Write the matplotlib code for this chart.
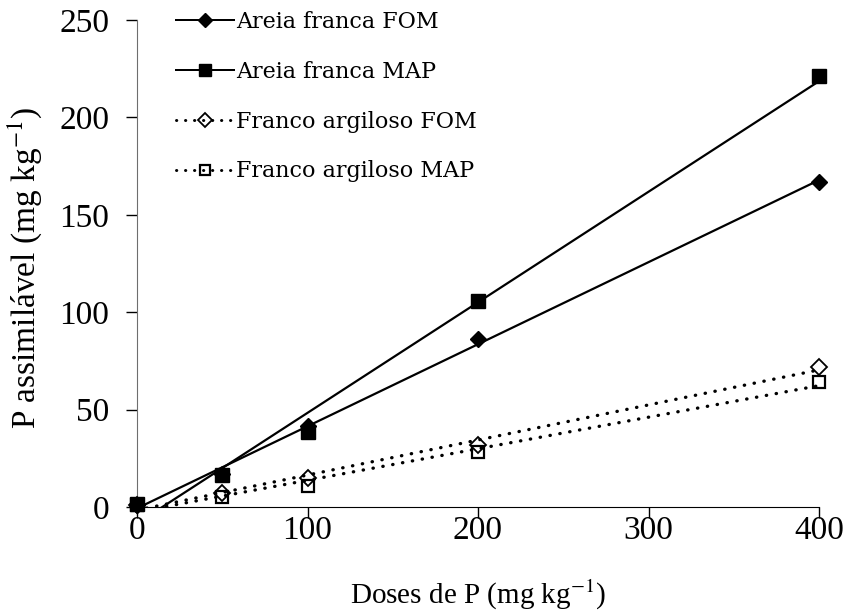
import numpy as np
import matplotlib
matplotlib.use("Agg")
import matplotlib.pyplot as plt
from matplotlib.lines import Line2D

plt.rcParams['font.family'] = ['Liberation Serif', 'DejaVu Serif']
plt.rcParams['mathtext.fontset'] = 'stix'

# Doses de P aplicadas (mg kg-1)
doses = [0, 50, 100, 200, 400]

# P assimilável (mg kg-1) por solo e fertilizante
areia_fom = [1, 17, 41.5, 86, 167]
areia_map = [1.5, 16.5, 38.5, 106, 221]
franco_fom = [1, 7, 15, 32, 72]
franco_map = [1, 5, 11, 28, 64]

labels = ["Areia franca FOM", "Areia franca MAP",
          "Franco argiloso FOM", "Franco argiloso MAP"]

x_ticks = [0, 100, 200, 300, 400]
y_ticks = [0, 50, 100, 150, 200, 250]

fig = plt.figure(figsize=(8.43, 6.13), dpi=100)
ax = fig.add_axes([137 / 843, 1 - 507 / 613, (819 - 137) / 843, (507 - 20) / 613])

dotted = (0, (0.1, 2.9))
styles = [
    dict(ls='-', lw=1.6, marker='D', ms=8, mfc='black', mec='black'),
    dict(ls='-', lw=1.6, marker='s', ms=10, mfc='black', mec='black'),
    dict(ls=dotted, lw=2.4, marker='D', ms=8, mfc='none', mec='black', mew=1.3),
    dict(ls=dotted, lw=2.4, marker='s', ms=9, mfc='none', mec='black', mew=1.6),
]
series = [areia_fom, areia_map, franco_fom, franco_map]

# linear trend line for each series, markers at the measured points
xfit = np.array([0.0, 400.0])
for order in [2, 3, 0, 1]:
    y = series[order]
    st = styles[order]
    slope, intercept = np.polyfit(doses, y, 1)
    ax.plot(xfit, slope * xfit + intercept, color='black', ls=st['ls'], lw=st['lw'],
            dash_capstyle='round', solid_capstyle='butt', zorder=2)
    ax.plot(doses, y, ls='none', marker=st['marker'], ms=st['ms'], mfc=st['mfc'],
            mec=st['mec'], mew=st.get('mew', 1.0), clip_on=False, zorder=3 + order)

handles = []
for st, lab in zip(styles, labels):
    handles.append(Line2D([0], [0], color='black', ls=st['ls'], lw=st['lw'] * 0.9,
                          dash_capstyle='round', marker=st['marker'],
                          ms=st['ms'] * 0.85, mfc=st['mfc'], mec=st['mec'],
                          mew=st.get('mew', 1.0), label=lab))

fig.legend(handles=handles, loc='upper left',
           bbox_to_anchor=(176 / 843, 1 - 11 / 613),
           frameon=False, prop={'family': 'DejaVu Serif', 'size': 16},
           handlelength=2.6, handletextpad=0.12, labelspacing=1.25,
           borderaxespad=0, borderpad=0)

ax.set_xlim(0, 400)
ax.set_ylim(0, 250)
ax.set_xticks(x_ticks)
ax.set_yticks(y_ticks)
ax.tick_params(axis='both', direction='out', length=8, width=1, labelsize=24)
ax.tick_params(axis='x', pad=-2)
ax.tick_params(axis='y', pad=12)
ax.spines['top'].set_visible(False)
ax.spines['right'].set_visible(False)
ax.spines['left'].set_color('#6e6e6e')
ax.spines['bottom'].set_color('black')

ax.set_xlabel('Doses de P (mg kg$^{\\mathrm{-1}}$)', fontsize=21)
ax.set_ylabel('P assimilável (mg kg$^{\\mathrm{-1}}$)', fontsize=24)
ax.xaxis.set_label_coords(0.5, -0.146)
ax.yaxis.set_label_coords(-0.137, 0.49)

fig.savefig('out.png', dpi=100)
